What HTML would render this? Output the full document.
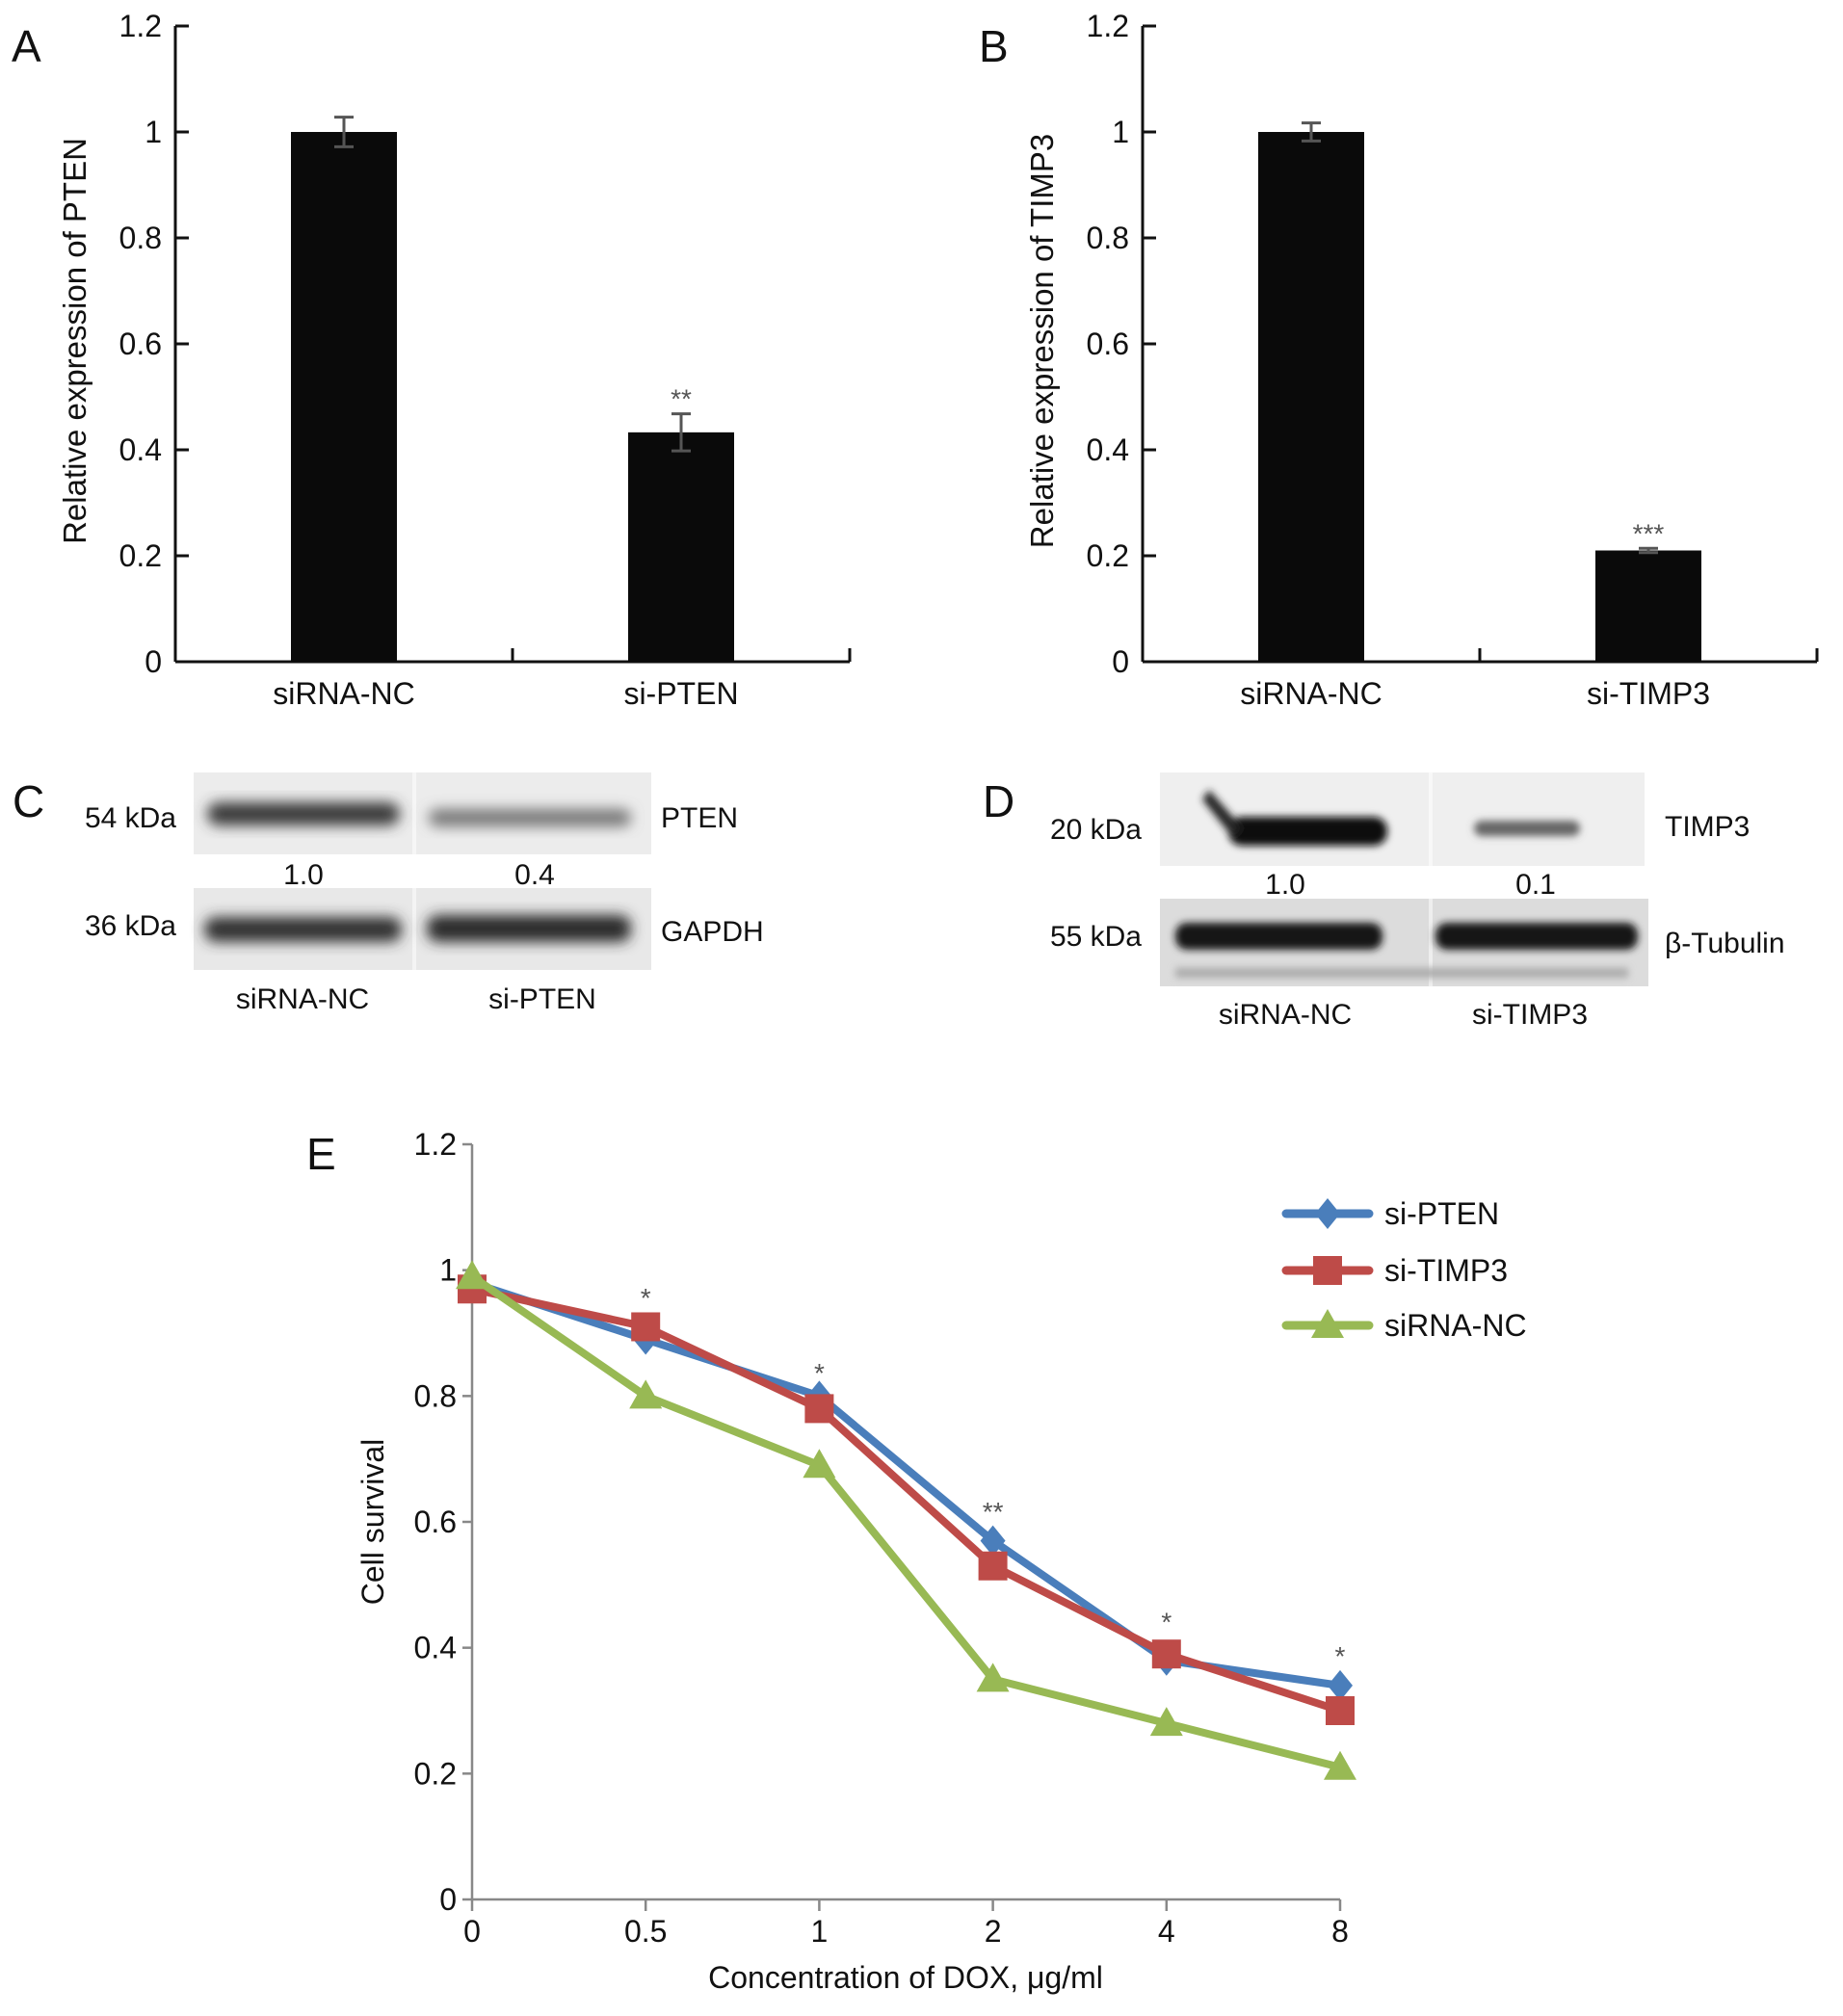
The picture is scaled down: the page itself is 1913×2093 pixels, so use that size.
<!DOCTYPE html>
<html><head><meta charset="utf-8"><style>
body{margin:0;background:#fff}
svg{display:block}
text{font-family:"Liberation Sans",Arial,sans-serif;fill:#111}
</style></head><body>
<svg id="fig" width="1913" height="2093" viewBox="0 0 1913 2093">
<defs>
<filter id="blur" x="-20%" y="-50%" width="140%" height="200%"><feGaussianBlur stdDeviation="7"/></filter>
<filter id="blur2" x="-20%" y="-50%" width="140%" height="200%"><feGaussianBlur stdDeviation="4"/></filter>
</defs>
<g id="blots">
<text x="13" y="848" font-size="46">C</text>
<rect x="201" y="802" width="475" height="85" fill="#ececec"/>
<rect x="428" y="802" width="4" height="85" fill="#f6f6f6"/>
<g filter="url(#blur)"><rect x="215" y="833" width="200" height="24" rx="12" fill="#3a3a3a"/><rect x="445" y="840" width="210" height="18" rx="9" fill="#777"/></g>
<rect x="201" y="922" width="475" height="85" fill="#e8e8e8"/>
<rect x="428" y="922" width="4" height="85" fill="#f4f4f4"/>
<g filter="url(#blur)"><rect x="212" y="952" width="205" height="26" rx="12" fill="#333"/><rect x="443" y="950" width="212" height="28" rx="12" fill="#2a2a2a"/></g>
<text x="183" y="859" font-size="30" text-anchor="end">54 kDa</text>
<text x="686" y="859" font-size="30">PTEN</text>
<text x="315" y="918" font-size="30" text-anchor="middle">1.0</text>
<text x="555" y="918" font-size="30" text-anchor="middle">0.4</text>
<text x="183" y="971" font-size="30" text-anchor="end">36 kDa</text>
<text x="686" y="977" font-size="30">GAPDH</text>
<text x="314" y="1047" font-size="30" text-anchor="middle">siRNA-NC</text>
<text x="563" y="1047" font-size="30" text-anchor="middle">si-PTEN</text>
<text x="1020" y="848" font-size="46">D</text>
<rect x="1204" y="802" width="503" height="97" fill="#efefef"/>
<rect x="1483" y="802" width="4" height="97" fill="#f8f8f8"/>
<g filter="url(#blur2)"><rect x="1275" y="848" width="165" height="30" rx="14" fill="#111"/><path d="M1255 820 L1290 860 L1280 870 L1248 830Z" fill="#222"/><rect x="1530" y="852" width="110" height="16" rx="8" fill="#666"/></g>
<rect x="1204" y="933" width="507" height="91" fill="#dcdcdc"/>
<rect x="1483" y="933" width="4" height="91" fill="#eee"/>
<g filter="url(#blur2)"><rect x="1220" y="958" width="215" height="28" rx="12" fill="#181818"/><rect x="1490" y="958" width="210" height="28" rx="12" fill="#181818"/><rect x="1220" y="1005" width="470" height="10" fill="#aaa"/></g>
<text x="1185" y="871" font-size="30" text-anchor="end">20 kDa</text>
<text x="1728" y="868" font-size="30">TIMP3</text>
<text x="1334" y="928" font-size="30" text-anchor="middle">1.0</text>
<text x="1594" y="928" font-size="30" text-anchor="middle">0.1</text>
<text x="1185" y="982" font-size="30" text-anchor="end">55 kDa</text>
<text x="1728" y="989" font-size="30">β-Tubulin</text>
<text x="1334" y="1063" font-size="30" text-anchor="middle">siRNA-NC</text>
<text x="1588" y="1063" font-size="30" text-anchor="middle">si-TIMP3</text>
</g>
</svg>
<script>
const NS='http://www.w3.org/2000/svg';
const svg=document.getElementById('fig');
function el(tag,attrs,parent,txt){const e=document.createElementNS(NS,tag);for(const k in attrs)e.setAttribute(k,attrs[k]);if(txt!==undefined)e.textContent=txt;(parent||svg).appendChild(e);return e;}

const barTicks=['0','0.2','0.4','0.6','0.8','1','1.2'];
const catsA=['siRNA-NC','si-PTEN'];
const valsA=[1.0,0.433];
const errA=[0.028,0.035];
const starsA=['','**'];
const catsB=['siRNA-NC','si-TIMP3'];
const valsB=[1.0,0.21];
const errB=[0.017,0.004];
const starsB=['','***'];

function barChart(ox,label,title,cats,vals,errs,stars,name){
  const g=el('g',{});
  
  
  const x0=ox, x1=ox+700, yTop=27, yZero=687;
  const y=v=>yZero-(v/1.2)*(yZero-yTop);
  const band=(x1-x0)/cats.length;
  el('text',{x:ox-170,y:64,'font-size':46},g,label);
  el('line',{x1:x0,y1:yTop,x2:x0,y2:yZero,stroke:'#111','stroke-width':3},g);
  el('line',{x1:x0,y1:yZero,x2:x1,y2:yZero,stroke:'#111','stroke-width':3},g);
  barTicks.forEach(t=>{const yy=y(parseFloat(t));
    el('line',{x1:x0,y1:yy,x2:x0+14,y2:yy,stroke:'#111','stroke-width':3},g);
    const tx=el('text',{x:x0-14,y:yy+11,'font-size':32,'text-anchor':'end'},g,t);
    
    
  });
  for(let i=1;i<=cats.length;i++){const xx=x0+band*i;el('line',{x1:xx,y1:yZero,x2:xx,y2:yZero-14,stroke:'#111','stroke-width':3},g);}
  const yt=el('text',{x:0,y:0,'font-size':33,'text-anchor':'middle',transform:`translate(${ox-93},354) rotate(-90)`},g,title);
  
  
  cats.forEach((c,i)=>{
    const cx=x0+band*(i+0.5), w=110;
    const r=el('rect',{x:cx-w/2,y:y(vals[i]),width:w,height:yZero-y(vals[i]),fill:'#0a0a0a'},g);
    
    
    const e1=y(vals[i]+errs[i]), e2=y(vals[i]-errs[i]);
    el('line',{x1:cx,y1:e1,x2:cx,y2:e2,stroke:'#555','stroke-width':3},g);
    el('line',{x1:cx-10,y1:e1,x2:cx+10,y2:e1,stroke:'#555','stroke-width':3},g);
    el('line',{x1:cx-10,y1:e2,x2:cx+10,y2:e2,stroke:'#555','stroke-width':3},g);
    if(stars[i]){const s=el('text',{x:cx,y:e1-6,'font-size':28,'text-anchor':'middle'},g,stars[i]);s.style.fill='#555';}
    const lt=el('text',{x:cx,y:731,'font-size':32,'text-anchor':'middle'},g,c);
    
    
  });
}
barChart(182,'A','Relative expression of PTEN',catsA,valsA,errA,starsA,'chart-a-pten');
barChart(1186,'B','Relative expression of TIMP3',catsB,valsB,errB,starsB,'chart-b-timp3');

const doseLabels=['0','0.5','1','2','4','8'];
const lineTicks=['0','0.2','0.4','0.6','0.8','1','1.2'];
const ptenVals=[0.98,0.89,0.80,0.57,0.38,0.34];
const timp3Vals=[0.97,0.91,0.78,0.53,0.39,0.30];
const ncVals=[0.99,0.80,0.69,0.35,0.28,0.21];
const starLabels=['','*','*','**','*','*'];
const starVals=[0,0.96,0.84,0.62,0.445,0.39];

(function(){
  const g=el('g',{});
  
  
  const x0=490, step=(1391-490)/5, yTop=1188, yZero=1972;
  const X=i=>x0+i*step, Y=v=>yZero-(v/1.2)*(yZero-yTop);
  el('text',{x:318,y:1214,'font-size':46},g,'E');
  el('line',{x1:x0,y1:yTop,x2:x0,y2:yZero,stroke:'#888','stroke-width':2.5},g);
  el('line',{x1:x0,y1:yZero,x2:X(5),y2:yZero,stroke:'#888','stroke-width':2.5},g);
  lineTicks.forEach(t=>{const yy=Y(parseFloat(t));
    el('line',{x1:x0-10,y1:yy,x2:x0,y2:yy,stroke:'#888','stroke-width':2.5},g);
    const tx=el('text',{x:x0-16,y:yy+11,'font-size':32,'text-anchor':'end'},g,t);
    
    
  });
  doseLabels.forEach((d,i)=>{
    el('line',{x1:X(i),y1:yZero,x2:X(i),y2:yZero+12,stroke:'#888','stroke-width':2.5},g);
    const tx=el('text',{x:X(i),y:2016,'font-size':32,'text-anchor':'middle'},g,d);
    
    
  });
  const xt=el('text',{x:940,y:2064,'font-size':32,'text-anchor':'middle'},g,'Concentration of DOX, μg/ml');
  
  
  const yt=el('text',{x:0,y:0,'font-size':32,'text-anchor':'middle',transform:'translate(398,1580) rotate(-90)'},g,'Cell survival');
  
  
  function marker(type,cx,cy,col,parent){
    if(type==='d') return el('polygon',{points:`${cx},${cy-16} ${cx+13},${cy} ${cx},${cy+16} ${cx-13},${cy}`,fill:col},parent);
    if(type==='s') return el('rect',{x:cx-15,y:cy-15,width:30,height:30,fill:col},parent);
    return el('polygon',{points:`${cx},${cy-17} ${cx+17},${cy+13} ${cx-17},${cy+13}`,fill:col},parent);
  }
  const series=[['si-PTEN',ptenVals,'#4a7ebb','d'],['si-TIMP3',timp3Vals,'#be4b48','s'],['siRNA-NC',ncVals,'#98b954','t']];
  series.forEach(([nm,vals,col,mk])=>{
    const sg=el('g',{},g);
    
    
    el('polyline',{points:vals.map((v,i)=>X(i)+','+Y(v)).join(' '),fill:'none',stroke:col,'stroke-width':8,'stroke-linejoin':'round'},sg);
    vals.forEach((v,i)=>{const m=marker(mk,X(i),Y(v),col,sg);
      
      });
  });
  starLabels.forEach((s,i)=>{if(s){const t=el('text',{x:X(i),y:Y(starVals[i])+12,'font-size':28,'text-anchor':'middle'},g,s);t.style.fill='#555';}});
  const legY=[1260,1319,1376];
  series.forEach(([nm,vals,col,mk],k)=>{
    const lg=el('g',{},g);
    
    
    el('line',{x1:1335,y1:legY[k],x2:1421,y2:legY[k],stroke:col,'stroke-width':9,'stroke-linecap':'round'},lg);
    marker(mk,1378,legY[k],col,lg);
    el('text',{x:1437,y:legY[k]+11,'font-size':32},lg,nm);
  });
})();
</script>
</body></html>
